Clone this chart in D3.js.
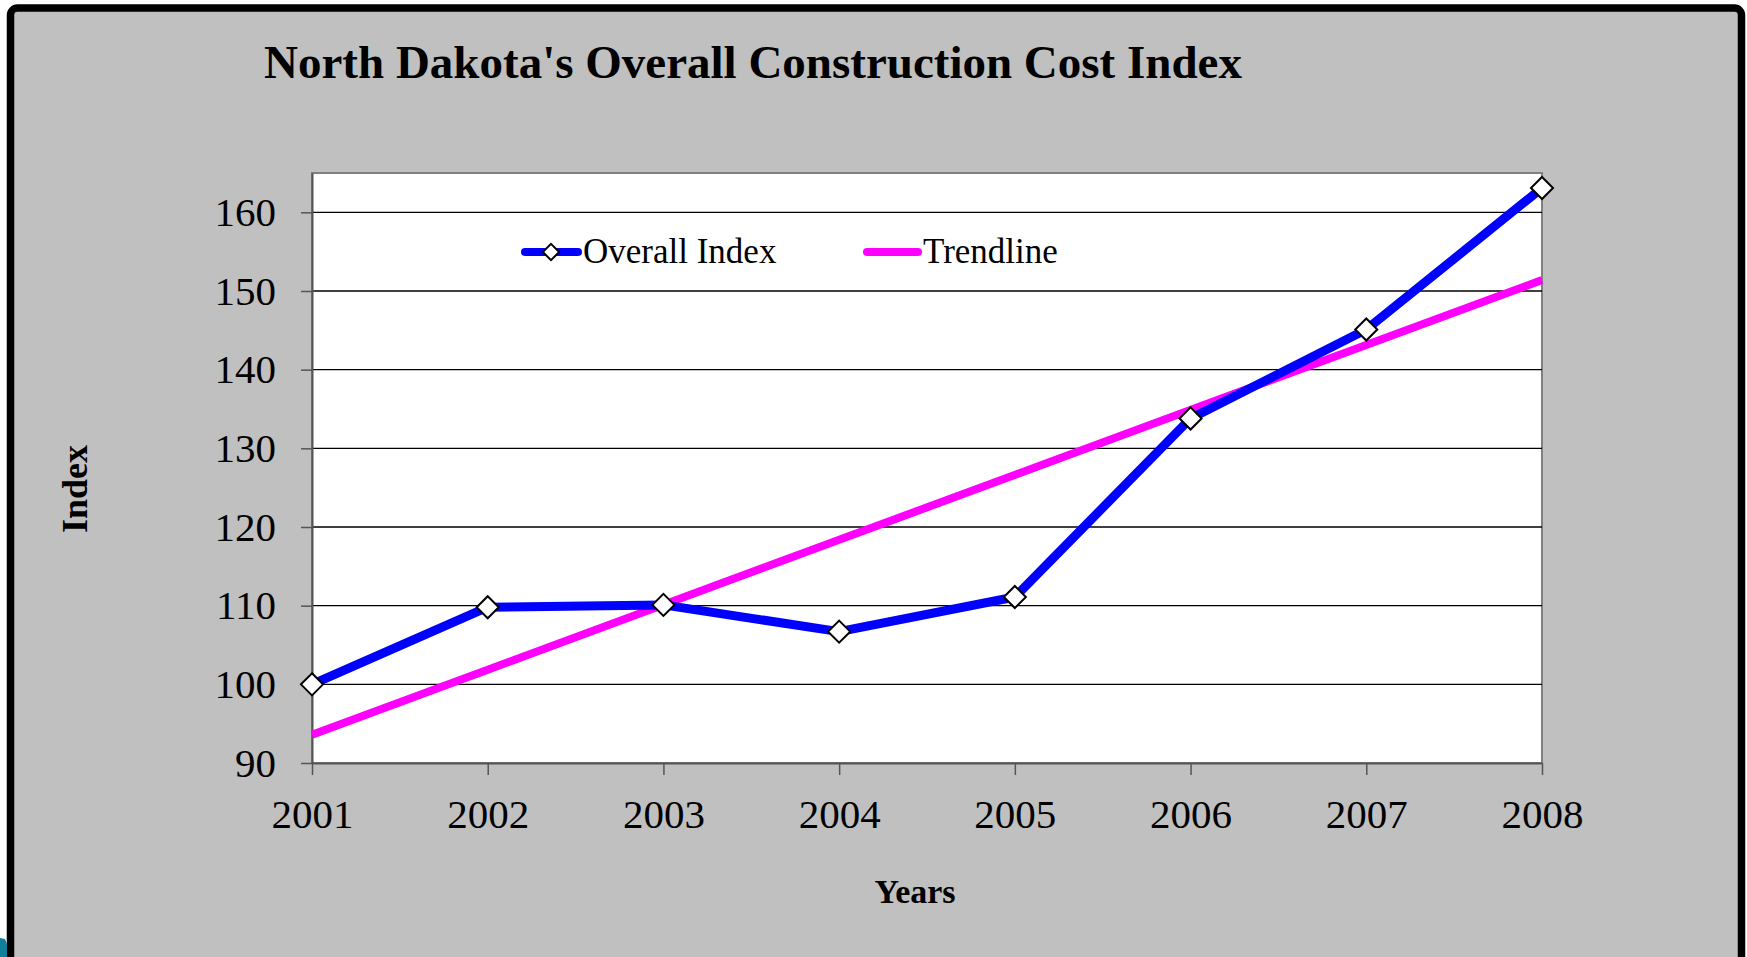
<!DOCTYPE html>
<html lang="en">
<head>
<meta charset="UTF-8"/>
<title>North Dakota's Overall Construction Cost Index</title>
<script src="https://d3js.org/d3.v7.min.js"></script>
<style>
    body { margin: 0; background: #fff; }
    text { font-family: "Liberation Serif", "Times New Roman", serif; fill: #000; }
</style>
</head>
<body>
<div id="chart"></div>

<script>
    // data
    var years = [2001, 2002, 2003, 2004, 2005, 2006, 2007, 2008];
    var overallIndex = [100, 109.8, 110.1, 106.7, 111.1, 133.8, 145.1, 163.1];
    var trendYears = [2001, 2008];
    var trendValues = [93.6, 151.4];
    var yTicks = [90, 100, 110, 120, 130, 140, 150, 160];

    let width = 1747;
    let height = 957;

    // plot area (note: "top" is taken by window.top, so use other names)
    var plotLeft = 312, plotRight = 1542, plotTop = 173, plotBottom = 763;

    var svg = d3.select("#chart").append("svg")
        .attr("width", width).attr("height", height);

    // slide frame
    svg.append("rect")
        .attr("x", 10.5).attr("y", 8)
        .attr("width", 1731).attr("height", 960)
        .attr("rx", 7)
        .attr("fill", "#c0c0c0")
        .attr("stroke", "#000")
        .attr("stroke-width", 7.5);

    // little teal bit in the corner
    svg.append("path")
        .attr("d", "M0,938 L5,939 L7,944 L7,957 L0,957 Z")
        .attr("fill", "#10809a");

    var xScale = d3.scalePoint().domain(years).range([plotLeft, plotRight]);
    var yScale = d3.scaleLinear().domain([90, 165]).range([plotBottom, plotTop]);

    // white plot area
    svg.append("rect")
        .attr("x", plotLeft).attr("y", plotTop)
        .attr("width", plotRight - plotLeft).attr("height", plotBottom - plotTop)
        .attr("fill", "#fff")
        .attr("stroke", "#808080")
        .attr("stroke-width", 2);

    // grid lines
    svg.append("g").selectAll("line")
        .data(yTicks.filter(function (d) { return d > 90; }))
        .enter().append("line")
        .attr("x1", plotLeft).attr("x2", plotRight)
        .attr("y1", function (d) { return yScale(d); })
        .attr("y2", function (d) { return yScale(d); })
        .attr("stroke", "#000")
        .attr("stroke-width", 1.3);

    var yAxis = d3.axisLeft(yScale).tickValues(yTicks).tickSize(11).tickSizeOuter(0).tickPadding(25);
    var xAxis = d3.axisBottom(xScale).tickSize(12).tickSizeOuter(0).tickPadding(24).tickFormat(d3.format("d"));

    var gy = svg.append("g").attr("transform", "translate(" + plotLeft + ",0)").call(yAxis);
    var gx = svg.append("g").attr("transform", "translate(0," + plotBottom + ")").call(xAxis);

    [gy, gx].forEach(function (g) {
        g.select(".domain").attr("stroke", "#555").attr("stroke-width", 2);
        g.selectAll(".tick line").attr("stroke", "#555").attr("stroke-width", 1.5);
        g.selectAll(".tick text")
            .attr("font-size", 41)
            .attr("fill", "#000");
    });

    // trendline
    var line = d3.line()
        .x(function (d) { return xScale(d[0]); })
        .y(function (d) { return yScale(d[1]); });

    svg.append("path")
        .datum(d3.zip(trendYears, trendValues))
        .attr("d", line)
        .attr("fill", "none")
        .attr("stroke", "#ff00ff")
        .attr("stroke-width", 8);

    // overall index line
    svg.append("path")
        .datum(d3.zip(years, overallIndex))
        .attr("d", line)
        .attr("fill", "none")
        .attr("stroke", "#0000ff")
        .attr("stroke-width", 9)
        .attr("stroke-linejoin", "round");

    // diamond markers
    var diamond = d3.symbol().type(d3.symbolDiamond2).size(310);
    svg.selectAll(".marker")
        .data(d3.zip(years, overallIndex))
        .enter().append("path")
        .attr("class", "marker")
        .attr("d", diamond)
        .attr("transform", function (d) {
            return "translate(" + xScale(d[0]) + "," + yScale(d[1]) + ")";
        })
        .attr("fill", "#fff")
        .attr("stroke", "#000")
        .attr("stroke-width", 2);

    // legend
    var legY = 252;
    svg.append("line")
        .attr("x1", 525).attr("x2", 578).attr("y1", legY).attr("y2", legY)
        .attr("stroke", "#0000ff").attr("stroke-width", 8).attr("stroke-linecap", "round");
    svg.append("path")
        .attr("d", d3.symbol().type(d3.symbolDiamond2).size(170))
        .attr("transform", "translate(551," + legY + ")")
        .attr("fill", "#fff").attr("stroke", "#000").attr("stroke-width", 2);
    svg.append("text")
        .attr("x", 583).attr("y", 263)
        .attr("font-size", 35)
        .text("Overall Index");

    svg.append("line")
        .attr("x1", 867).attr("x2", 918).attr("y1", legY).attr("y2", legY)
        .attr("stroke", "#ff00ff").attr("stroke-width", 8).attr("stroke-linecap", "round");
    svg.append("text")
        .attr("x", 923).attr("y", 263)
        .attr("font-size", 35)
        .text("Trendline");

    // title and axis labels
    svg.append("text")
        .attr("x", 753).attr("y", 78)
        .attr("text-anchor", "middle")
        .attr("font-size", 47)
        .attr("font-weight", "bold")
        .text("North Dakota's Overall Construction Cost Index");

    svg.append("text")
        .attr("x", 915).attr("y", 903)
        .attr("text-anchor", "middle")
        .attr("font-size", 34)
        .attr("font-weight", "bold")
        .text("Years");

    svg.append("text")
        .attr("transform", "translate(87,489) rotate(-90)")
        .attr("text-anchor", "middle")
        .attr("font-size", 36)
        .attr("font-weight", "bold")
        .text("Index");
</script>
</body>
</html>
